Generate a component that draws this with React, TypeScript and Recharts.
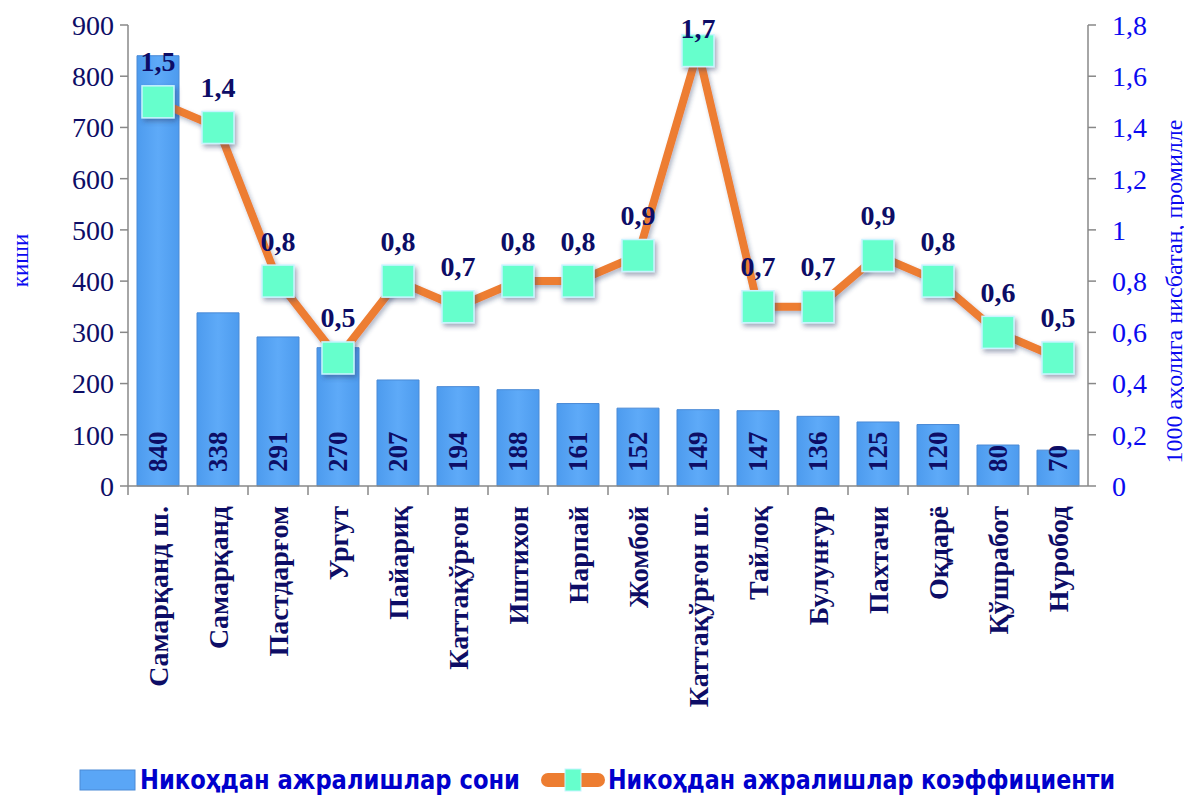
import React from 'react';
import { ComposedChart, Bar, Line, XAxis, YAxis, LabelList } from 'recharts';

const categories = [
    'Самарқанд ш.', 'Самарқанд', 'Пастдарғом', 'Ургут', 'Пайариқ', 'Каттақўрғон', 'Иштихон', 'Нарпай',
    'Жомбой', 'Каттақўрғон ш.', 'Тайлоқ', 'Булунғур', 'Пахтачи', 'Оқдарё', 'Қўшработ', 'Нуробод',
];
const divorceCounts = [840, 338, 291, 270, 207, 194, 188, 161, 152, 149, 147, 136, 125, 120, 80, 70];
const divorceRates = [1.5, 1.4, 0.8, 0.5, 0.8, 0.7, 0.8, 0.8, 0.9, 1.7, 0.7, 0.7, 0.9, 0.8, 0.6, 0.5];
const countTicks = [0, 100, 200, 300, 400, 500, 600, 700, 800, 900];
const rateTicks = [0, 0.2, 0.4, 0.6, 0.8, 1, 1.2, 1.4, 1.6, 1.8];

const NAVY = '#0d0d66';
const BLUE = '#0a0af0';
const SERIF = '"Liberation Serif", "Times New Roman", serif';

const data = categories.map((name, i) => ({ name, count: divorceCounts[i], rate: divorceRates[i] }));

const fmtRate = (v: number) => String(v).replace('.', ',');

const CategoryTick = ({ x, y, payload }: any) => (
    <g>
        <line x1={x - 30} y1={y} x2={x - 30} y2={y + 9} stroke="#888" strokeWidth={1.5} />
        <text
            x={x}
            y={y + 20}
            transform={`rotate(-90, ${x}, ${y + 20})`}
            textAnchor="end"
            dominantBaseline="central"
            fill={NAVY}
            fontFamily={SERIF}
            fontWeight="bold"
            fontSize={28}
        >
            {payload.value}
        </text>
    </g>
);

const BarValue = ({ x, y, width, height, value }: any) => {
    const cx = x + width / 2;
    const by = y + height - 14;
    return (
        <text
            x={cx}
            y={by}
            transform={`rotate(-90, ${cx}, ${by})`}
            textAnchor="start"
            dominantBaseline="central"
            fill={NAVY}
            fontFamily={SERIF}
            fontWeight="bold"
            fontSize={27}
        >
            {value}
        </text>
    );
};

// labels sit above the markers; the top one is pushed down so it stays inside
const RateValue = ({ x, y, value }: any) => (
    <text
        x={x}
        y={Math.max(y - 40, 20)}
        textAnchor="middle"
        dominantBaseline="central"
        fill={NAVY}
        fontFamily={SERIF}
        fontWeight="bold"
        fontSize={28}
    >
        {fmtRate(value)}
    </text>
);

const SquareDot = ({ cx, cy }: any) => (
    <rect x={cx - 16} y={cy - 16} width={32} height={32} fill="#66ffcc" stroke="#c8f4ff" strokeWidth={1.5} filter="url(#dotShadow)" />
);

const AxisTitle = ({ viewBox, value, dx, dy = 0, size = 23 }: any) => {
    const x = viewBox.x + dx;
    const y = viewBox.y + viewBox.height / 2 + dy;
    return (
        <text
            x={x}
            y={y}
            transform={`rotate(-90, ${x}, ${y})`}
            textAnchor="middle"
            dominantBaseline="central"
            fill={BLUE}
            fontFamily={SERIF}
            fontSize={size}
        >
            {value}
        </text>
    );
};

export default function App() {
    return (
        <div style={{ position: 'relative', width: 1184, height: 788 }}>
            <ComposedChart width={1184} height={788} data={data} margin={{ top: 17, right: 0, left: 0, bottom: 80 }}>
                <defs>
                    <linearGradient id="barFill" x1="0" y1="0" x2="1" y2="0">
                        <stop offset="0%" stopColor="#4d9bee" />
                        <stop offset="50%" stopColor="#5eaaf8" />
                        <stop offset="100%" stopColor="#4d9bee" />
                    </linearGradient>
                    <filter id="dotShadow" x="-40%" y="-40%" width="180%" height="180%">
                        <feDropShadow dx="2" dy="3" stdDeviation="2.5" floodColor="#2a3a66" floodOpacity="0.45" />
                    </filter>
                    <filter id="lineShadow" x="-10%" y="-10%" width="120%" height="120%">
                        <feDropShadow dx="2" dy="3" stdDeviation="2" floodColor="#2a3a66" floodOpacity="0.35" />
                    </filter>
                </defs>
                <XAxis
                    dataKey="name"
                    height={230}
                    interval={0}
                    tickSize={0}
                    tickMargin={0}
                    tickLine={false}
                    axisLine={{ stroke: '#888', strokeWidth: 1.5 }}
                    tick={<CategoryTick />}
                />
                <YAxis
                    yAxisId="left"
                    width={120}
                    domain={[0, 900]}
                    ticks={countTicks}
                    interval={0}
                    tickSize={8}
                    tickMargin={6}
                    axisLine={{ stroke: '#888', strokeWidth: 1.5 }}
                    tickLine={{ stroke: '#888', strokeWidth: 1.5 }}
                    tick={{ fill: NAVY, fontFamily: SERIF, fontSize: 28 }}
                    label={<AxisTitle value="киши" dx={12} dy={5} />}
                />
                <YAxis
                    yAxisId="right"
                    orientation="right"
                    width={104}
                    domain={[0, 1.8]}
                    ticks={rateTicks}
                    interval={0}
                    tickSize={8}
                    tickMargin={16}
                    tickFormatter={fmtRate}
                    axisLine={{ stroke: '#888', strokeWidth: 1.5 }}
                    tickLine={{ stroke: '#888', strokeWidth: 1.5 }}
                    tick={{ fill: BLUE, fontFamily: SERIF, fontSize: 28 }}
                    label={<AxisTitle value="1000 аҳолига нисбатан, промилле" dx={86} dy={36} size={24} />}
                />
                <Bar yAxisId="left" dataKey="count" barSize={42} fill="url(#barFill)" stroke="#4a8ad6" strokeWidth={1} isAnimationActive={false}>
                    <LabelList dataKey="count" content={<BarValue />} />
                </Bar>
                <Line
                    yAxisId="right"
                    dataKey="rate"
                    stroke="#ed7d31"
                    strokeWidth={8}
                    strokeLinejoin="round"
                    filter="url(#lineShadow)"
                    dot={<SquareDot />}
                    activeDot={false}
                    isAnimationActive={false}
                >
                    <LabelList dataKey="rate" content={<RateValue />} />
                </Line>
            </ComposedChart>
            <svg width={1184} height={40} style={{ position: 'absolute', left: 0, top: 752 }}>
                <rect x={72} y={10} width={55} height={20} fill="#5aa6f6" stroke="#4a8ad6" />
                <text x={132} y={29} textLength={380} lengthAdjust="spacingAndGlyphs" fill="#0000cc" fontFamily='"DejaVu Sans Condensed", "DejaVu Sans", sans-serif' fontWeight="bold" fontSize={26}>
                    Никоҳдан ажралишлар сони
                </text>
                <line x1={540} y1={20} x2={590} y2={20} stroke="#ed7d31" strokeWidth={14} strokeLinecap="round" />
                <rect x={557} y={9} width={16} height={22} fill="#66ffcc" stroke="#c8f4ff" />
                <text x={600} y={29} textLength={507} lengthAdjust="spacingAndGlyphs" fill="#0000cc" fontFamily='"DejaVu Sans Condensed", "DejaVu Sans", sans-serif' fontWeight="bold" fontSize={26}>
                    Никоҳдан ажралишлар коэффициенти
                </text>
            </svg>
        </div>
    );
}
